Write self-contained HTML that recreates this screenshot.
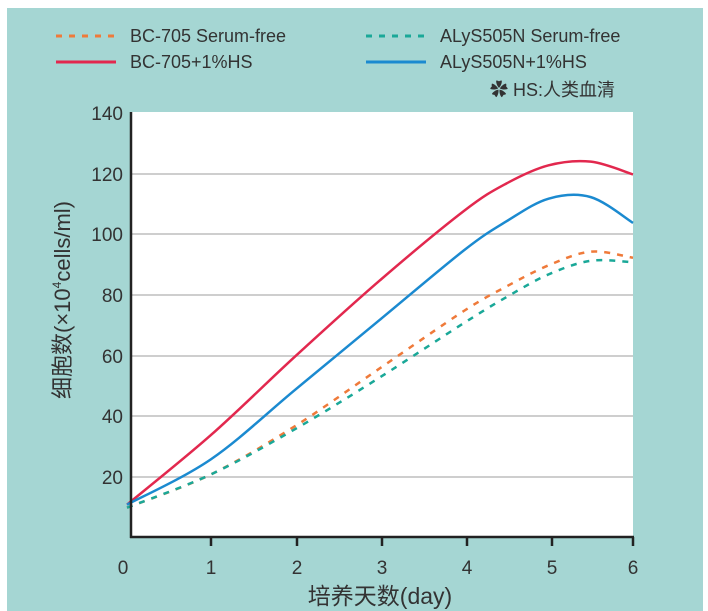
<!DOCTYPE html>
<html><head><meta charset="utf-8"><style>
body{margin:0;background:#fff;}
svg{display:block;font-family:"Liberation Sans","Noto Sans CJK SC",sans-serif;}
</style></head><body>
<svg id="s" width="708" height="611" xmlns="http://www.w3.org/2000/svg">
<rect x="7" y="8" width="696" height="603" fill="#a5d6d3"/>
<rect x="130" y="112" width="503" height="425" fill="#fff"/>
<g stroke="#bdbdbd" stroke-width="1.5">
<line x1="130" x2="633" y1="174" y2="174"/><line x1="130" x2="633" y1="234" y2="234"/>
<line x1="130" x2="633" y1="295" y2="295"/><line x1="130" x2="633" y1="356" y2="356"/>
<line x1="130" x2="633" y1="416" y2="416"/><line x1="130" x2="633" y1="477" y2="477"/>
</g>
<g id="curves" fill="none"></g>
<g stroke="#222" stroke-width="2.5">
<line x1="131" y1="112" x2="131" y2="538"/><line x1="130" y1="537" x2="634" y2="537"/>
<line x1="211" y1="537" x2="211" y2="546"/><line x1="297" y1="537" x2="297" y2="546"/>
<line x1="382" y1="537" x2="382" y2="546"/><line x1="467" y1="537" x2="467" y2="546"/>
<line x1="552" y1="537" x2="552" y2="546"/><line x1="633" y1="537" x2="633" y2="546"/>
</g>
<g fill="#333" font-size="19" text-anchor="end">
<text x="123" y="120">140</text><text x="123" y="181">120</text><text x="123" y="241">100</text>
<text x="123" y="302">80</text><text x="123" y="363">60</text><text x="123" y="423">40</text>
<text x="123" y="484">20</text>
</g>
<g fill="#333" font-size="19" text-anchor="middle">
<text x="123" y="574">0</text><text x="211" y="574">1</text><text x="297" y="574">2</text>
<text x="382" y="574">3</text><text x="467" y="574">4</text><text x="552" y="574">5</text><text x="633" y="574">6</text>
</g>
<text x="380" y="604" font-size="23" fill="#333" text-anchor="middle">培养天数(day)</text>
<text transform="translate(70,300) rotate(-90)" font-size="22" fill="#333" text-anchor="middle">细胞数(×10<tspan font-size="12" dy="-9">4</tspan><tspan dy="9">cells/ml)</tspan></text>
<line x1="56" y1="36" x2="116" y2="36" stroke="#ef7a3a" stroke-width="3" stroke-dasharray="6,7"/>
<line x1="366" y1="36" x2="426" y2="36" stroke="#1aa898" stroke-width="3" stroke-dasharray="6,7"/>
<line x1="56" y1="62" x2="116" y2="62" stroke="#e2284e" stroke-width="3"/>
<line x1="366" y1="62" x2="426" y2="62" stroke="#1b8ad0" stroke-width="3"/>
<g font-size="18" fill="#333">
<text x="130" y="42">BC-705  Serum-free</text><text x="440" y="42">ALyS505N Serum-free</text>
<text x="130" y="68">BC-705+1%HS</text><text x="440" y="68">ALyS505N+1%HS</text>
<text x="490" y="96">✿ HS:人类血清</text>
</g>
</svg>
<script>
function X(d){return d<=1?127+d*84:211+(d-1)*84.4;}
function Y(v){return 538-v*3.03;}
function path(pts){
 var p=pts.map(function(a){return [X(a[0]),Y(a[1])];});
 var d="M"+p[0][0]+","+p[0][1];
 for(var i=0;i<p.length-1;i++){
  var p0=p[i-1]||p[i],p1=p[i],p2=p[i+1],p3=p[i+2]||p2;
  d+=" C"+(p1[0]+(p2[0]-p0[0])/6)+","+(p1[1]+(p2[1]-p0[1])/6)+" "+(p2[0]-(p3[0]-p1[0])/6)+","+(p2[1]-(p3[1]-p1[1])/6)+" "+p2[0]+","+p2[1];
 }
 return d;
}
var S=[
 [[[0,10],[1,21],[2,37],[3,56],[4,75],[4.5,83],[5,90],[5.5,94.5],[6,92.5]],"#ef7a3a","6,7"],
 [[[0,10],[1,21],[2,36],[3,53],[4,71],[4.5,79.5],[5,87],[5.5,91.5],[6,91]],"#1aa898","6,7"],
 [[[0,11],[1,34],[2,60],[3,85],[4,108],[4.5,117],[5,123],[5.5,124.2],[6,120]],"#e2284e",""],
 [[[0,11],[1,26],[2,49],[3,72],[4,95],[4.5,104.5],[5,112],[5.5,112.5],[6,104]],"#1b8ad0",""]
];
var g=document.getElementById("curves"),h="";
S.forEach(function(s){h+='<path d="'+path(s[0])+'" stroke="'+s[1]+'" stroke-width="2.5"'+(s[2]?' stroke-dasharray="'+s[2]+'"':'')+'/>';});
g.innerHTML=h;
</script>
</body></html>
